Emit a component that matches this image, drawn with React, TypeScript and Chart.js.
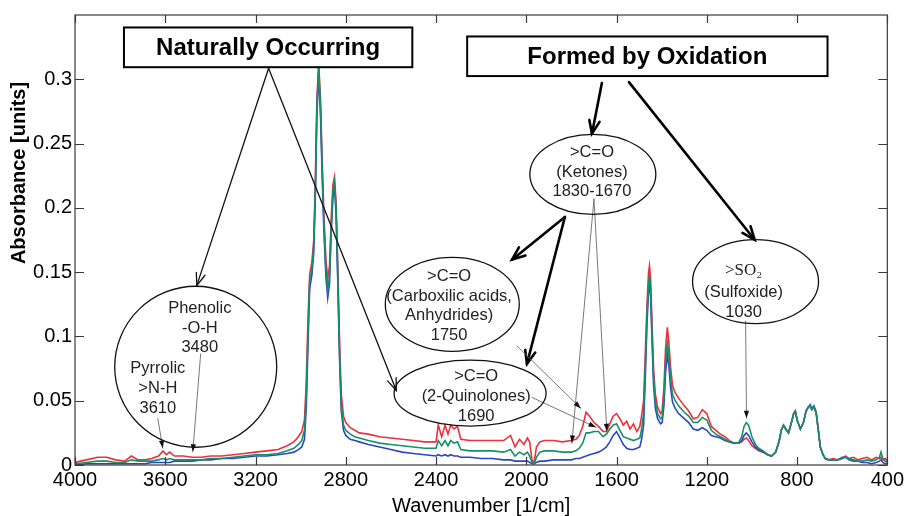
import React, { useEffect, useRef } from 'react';
import { Chart, registerables } from 'chart.js';

Chart.register(...registerables);

// ---------------- data ----------------
const wavenumbers = [
  4000, 3950, 3900, 3860, 3820, 3780, 3750, 3720, 3690, 3660,
  3630, 3610, 3595, 3580, 3560, 3520, 3480, 3440, 3400, 3350,
  3300, 3250, 3200, 3150, 3100, 3060, 3030, 3010, 2995, 2983,
  2975, 2968, 2960, 2950, 2942, 2935, 2928, 2920, 2912, 2905,
  2897, 2888, 2880, 2872, 2865, 2857, 2850, 2843, 2836, 2828,
  2820, 2810, 2800, 2780, 2760, 2740, 2700, 2650, 2600, 2550,
  2500, 2450, 2400, 2390, 2375, 2360, 2347, 2335, 2320, 2305,
  2290, 2250, 2200, 2150, 2100, 2070, 2050, 2030, 2010, 1995,
  1985, 1975, 1965, 1955, 1940, 1920, 1880, 1840, 1800, 1780,
  1765, 1750, 1735, 1720, 1700, 1680, 1660, 1645, 1630, 1615,
  1600, 1585, 1570, 1555, 1540, 1525, 1510, 1497, 1490, 1480,
  1472, 1465, 1458, 1454, 1449, 1443, 1436, 1428, 1418, 1405,
  1398, 1390, 1383, 1375, 1368, 1361, 1352, 1340, 1325, 1300,
  1280, 1260, 1240, 1220, 1200, 1180, 1160, 1140, 1120, 1100,
  1080, 1060, 1045, 1035, 1025, 1015, 1000, 985, 970, 950,
  930, 913, 895, 880, 870, 860, 850, 838, 825, 815,
  808, 798, 785, 772, 760, 750, 742, 735, 725, 715,
  705, 697, 685, 675, 660, 640, 620, 600, 585, 570,
  550, 530, 510, 490, 470, 450, 435, 428, 420, 410,
  400,
];

const redSeries = [
  0.002, 0.004, 0.006, 0.006, 0.004, 0.003, 0.007, 0.004, 0.004, 0.005,
  0.007, 0.011, 0.008, 0.010, 0.007, 0.007, 0.006, 0.006, 0.007, 0.007,
  0.008, 0.009, 0.010, 0.011, 0.012, 0.015, 0.018, 0.022, 0.026, 0.035,
  0.065, 0.110, 0.148, 0.158, 0.175, 0.220, 0.285, 0.312, 0.285, 0.240,
  0.195, 0.160, 0.145, 0.155, 0.190, 0.218, 0.224, 0.205, 0.160, 0.100,
  0.055, 0.038, 0.033, 0.029, 0.027, 0.025, 0.024, 0.022, 0.021, 0.020,
  0.019, 0.018, 0.018, 0.031, 0.022, 0.031, 0.024, 0.031, 0.028, 0.030,
  0.020, 0.019, 0.019, 0.019, 0.019, 0.023, 0.014, 0.020, 0.016, 0.021,
  0.018, 0.004, 0.002, 0.014, 0.018, 0.019, 0.019, 0.018, 0.019, 0.020,
  0.023, 0.030, 0.041, 0.038, 0.033, 0.030, 0.026, 0.026, 0.032, 0.038,
  0.040, 0.036, 0.031, 0.034, 0.028, 0.032, 0.026, 0.030, 0.037, 0.050,
  0.090, 0.125, 0.150, 0.155, 0.145, 0.112, 0.075, 0.055, 0.045, 0.040,
  0.042, 0.060, 0.090, 0.107, 0.095, 0.077, 0.062, 0.056, 0.052, 0.046,
  0.042, 0.036, 0.037, 0.043, 0.040, 0.030, 0.027, 0.024, 0.022, 0.019,
  0.017, 0.017, 0.018, 0.020, 0.021, 0.019, 0.015, 0.013, 0.011, 0.010,
  0.008, 0.007, 0.010, 0.018, 0.027, 0.031, 0.028, 0.025, 0.033, 0.040,
  0.042, 0.034, 0.028, 0.033, 0.042, 0.045, 0.046, 0.043, 0.045, 0.040,
  0.026, 0.014, 0.008, 0.005, 0.004, 0.005, 0.004, 0.005, 0.007, 0.005,
  0.006, 0.004, 0.005, 0.006, 0.004, 0.006, 0.005, 0.006, 0.004, 0.005,
  0.003,
];

const greenSeries = [
  0.001, 0.002, 0.003, 0.003, 0.002, 0.002, 0.004, 0.003, 0.003, 0.003,
  0.004, 0.005, 0.004, 0.005, 0.004, 0.004, 0.004, 0.004, 0.005, 0.005,
  0.006, 0.007, 0.008, 0.008, 0.009, 0.011, 0.013, 0.016, 0.019, 0.027,
  0.055, 0.100, 0.143, 0.153, 0.170, 0.213, 0.278, 0.310, 0.278, 0.233,
  0.188, 0.152, 0.136, 0.147, 0.183, 0.213, 0.220, 0.200, 0.152, 0.090,
  0.047, 0.031, 0.027, 0.024, 0.022, 0.021, 0.019, 0.017, 0.016, 0.015,
  0.014, 0.013, 0.013, 0.019, 0.015, 0.019, 0.015, 0.019, 0.017, 0.018,
  0.012, 0.011, 0.011, 0.011, 0.010, 0.012, 0.007, 0.010, 0.008, 0.010,
  0.007, 0.002, 0.001, 0.006, 0.010, 0.011, 0.011, 0.010, 0.010, 0.011,
  0.013, 0.017, 0.025, 0.025, 0.026, 0.026, 0.022, 0.024, 0.028, 0.031,
  0.032, 0.027, 0.022, 0.021, 0.020, 0.019, 0.020, 0.021, 0.027, 0.040,
  0.080, 0.117, 0.142, 0.147, 0.137, 0.104, 0.068, 0.049, 0.040, 0.036,
  0.037, 0.053, 0.080, 0.095, 0.085, 0.068, 0.055, 0.050, 0.046, 0.041,
  0.038, 0.033, 0.033, 0.037, 0.035, 0.027, 0.024, 0.022, 0.020, 0.018,
  0.017, 0.017, 0.022, 0.030, 0.033, 0.031, 0.022, 0.016, 0.013, 0.011,
  0.008, 0.007, 0.010, 0.018, 0.027, 0.031, 0.028, 0.025, 0.033, 0.040,
  0.042, 0.034, 0.028, 0.033, 0.042, 0.045, 0.046, 0.043, 0.045, 0.040,
  0.026, 0.014, 0.008, 0.005, 0.004, 0.004, 0.004, 0.005, 0.006, 0.005,
  0.004, 0.003, 0.003, 0.004, 0.003, 0.004, 0.006, 0.010, 0.005, 0.003,
  0.002,
];

const blueSeries = [
  0.000, 0.001, 0.001, 0.001, 0.001, 0.001, 0.001, 0.001, 0.001, 0.002,
  0.002, 0.002, 0.002, 0.002, 0.003, 0.003, 0.003, 0.004, 0.004, 0.005,
  0.005, 0.006, 0.007, 0.007, 0.008, 0.009, 0.010, 0.012, 0.014, 0.020,
  0.045, 0.090, 0.137, 0.148, 0.165, 0.207, 0.272, 0.305, 0.272, 0.227,
  0.182, 0.146, 0.130, 0.141, 0.178, 0.208, 0.216, 0.195, 0.146, 0.085,
  0.042, 0.027, 0.023, 0.020, 0.019, 0.018, 0.016, 0.014, 0.012, 0.010,
  0.009, 0.008, 0.007, 0.008, 0.007, 0.008, 0.007, 0.008, 0.007, 0.007,
  0.006, 0.006, 0.005, 0.005, 0.004, 0.004, 0.003, 0.003, 0.003, 0.003,
  0.002, 0.001, 0.001, 0.002, 0.003, 0.003, 0.004, 0.004, 0.004, 0.005,
  0.005, 0.006, 0.007, 0.008, 0.009, 0.010, 0.012, 0.014, 0.018, 0.023,
  0.026, 0.021, 0.016, 0.013, 0.012, 0.012, 0.013, 0.014, 0.019, 0.031,
  0.071, 0.110, 0.136, 0.141, 0.131, 0.098, 0.062, 0.044, 0.036, 0.032,
  0.033, 0.046, 0.071, 0.086, 0.077, 0.061, 0.049, 0.044, 0.040, 0.036,
  0.033, 0.028, 0.027, 0.029, 0.027, 0.023, 0.022, 0.021, 0.019, 0.018,
  0.017, 0.017, 0.019, 0.023, 0.025, 0.023, 0.018, 0.014, 0.012, 0.010,
  0.008, 0.007, 0.010, 0.018, 0.027, 0.031, 0.028, 0.025, 0.033, 0.040,
  0.042, 0.034, 0.028, 0.033, 0.042, 0.045, 0.047, 0.044, 0.046, 0.041,
  0.026, 0.014, 0.008, 0.005, 0.004, 0.004, 0.004, 0.006, 0.006, 0.004,
  0.003, 0.003, 0.002, 0.002, 0.001, 0.002, 0.003, 0.004, 0.002, 0.001,
  0.001,
];

const xTickValues = [4000, 3600, 3200, 2800, 2400, 2000, 1600, 1200, 800, 400];
const xTickLabels = ['4000', '3600', '3200', '2800', '2400', '2000', '1600', '1200', '800', '400'];
const yTickValues = [0, 0.05, 0.1, 0.15, 0.2, 0.25, 0.3];
const yTickLabels = ['0', '0.05', '0.1', '0.15', '0.2', '0.25', '0.3'];
const xTitle = 'Wavenumber [1/cm]';
const yTitle = 'Absorbance [units]';

// ---------------- annotations (positions in data units, sizes in px) ----------------
const headerBoxes = [
  { text: 'Naturally Occurring', x1: 3783, x2: 2505, y1: 0.3403, y2: 0.3094 },
  { text: 'Formed by Oxidation', x1: 2262, x2: 665, y1: 0.3333, y2: 0.3025 },
];

const ellipses = [
  { cx: 3465, cy: 0.0764, rx: 81, ry: 80.5 },
  { cx: 1705, cy: 0.2261, rx: 63, ry: 40 },
  { cx: 2328, cy: 0.1250, rx: 67, ry: 47 },
  { cx: 2249, cy: 0.0559, rx: 76, ry: 33 },
  { cx: 984, cy: 0.1427, rx: 63, ry: 42 },
];

const textBlocks = [
  { x: 3447, y: 0.1219, lines: ['Phenolic', '-O-H', '3480'], serif: false },
  { x: 3633, y: 0.0748, lines: ['Pyrrolic', '>N-H', '3610'], serif: false },
  { x: 1709, y: 0.2431, lines: ['>C=O', '(Ketones)', '1830-1670'], serif: false },
  { x: 2342, y: 0.1466, lines: ['>C=O', '(Carboxilic acids,', 'Anhydrides)', '1750'], serif: false },
  { x: 2222, y: 0.0687, lines: ['>C=O', '(2-Quinolones)', '1690'], serif: false },
  { x: 1037, y: 0.1512, lines: ['>SO₂'], serif: true },
  { x: 1037, y: 0.1343, lines: ['(Sulfoxide)', '1030'], serif: false },
];

// kind: thin = black open head, thick = bold black open head, pointer = grey line with small filled head
const arrows = [
  { from: [3142, 0.3086], to: [3460, 0.1397], kind: 'thin' },
  { from: [3142, 0.3086], to: [2576, 0.0579], kind: 'thin' },
  { from: [1665, 0.2971], to: [1709, 0.2577], kind: 'thick' },
  { from: [1545, 0.2978], to: [988, 0.1752], kind: 'thick' },
  { from: [1829, 0.1929], to: [2063, 0.1597], kind: 'thick' },
  { from: [1829, 0.1929], to: [1997, 0.0787], kind: 'thick' },
  { from: [3443, 0.0864], to: [3478, 0.0103], kind: 'pointer' },
  { from: [3633, 0.0363], to: [3611, 0.0131], kind: 'pointer' },
  { from: [1700, 0.2068], to: [1798, 0.0170], kind: 'pointer' },
  { from: [1700, 0.2068], to: [1643, 0.0262], kind: 'pointer' },
  { from: [2041, 0.0926], to: [1758, 0.0440], kind: 'pointer' },
  { from: [1974, 0.0525], to: [1691, 0.0293], kind: 'pointer' },
  { from: [1028, 0.1119], to: [1024, 0.0363], kind: 'pointer' },
];

const SANS = '"Liberation Sans", Arial, sans-serif';
const SERIF = '"Liberation Serif", "Times New Roman", serif';

function drawArrow(ctx: CanvasRenderingContext2D, x1: number, y1: number, x2: number, y2: number, kind: string) {
  const cfg =
    kind === 'thick'
      ? { w: 2.6, color: '#000', head: 14, spread: 0.38, filled: false, headColor: '#000' }
      : kind === 'thin'
      ? { w: 1.3, color: '#111', head: 13, spread: 0.36, filled: false, headColor: '#111' }
      : { w: 0.9, color: '#6a6a6a', head: 8, spread: 0.33, filled: true, headColor: '#111' };
  ctx.save();
  ctx.strokeStyle = cfg.color;
  ctx.lineWidth = cfg.w;
  ctx.lineCap = 'round';
  ctx.lineJoin = 'miter';
  ctx.beginPath();
  ctx.moveTo(x1, y1);
  ctx.lineTo(x2, y2);
  ctx.stroke();
  const ang = Math.atan2(y2 - y1, x2 - x1);
  const a1 = ang + Math.PI - cfg.spread;
  const a2 = ang + Math.PI + cfg.spread;
  const p1 = [x2 + cfg.head * Math.cos(a1), y2 + cfg.head * Math.sin(a1)];
  const p2 = [x2 + cfg.head * Math.cos(a2), y2 + cfg.head * Math.sin(a2)];
  ctx.beginPath();
  ctx.moveTo(p1[0], p1[1]);
  ctx.lineTo(x2, y2);
  ctx.lineTo(p2[0], p2[1]);
  if (cfg.filled) {
    ctx.closePath();
    ctx.fillStyle = cfg.headColor;
    ctx.fill();
  } else {
    ctx.strokeStyle = cfg.headColor;
    ctx.stroke();
  }
  ctx.restore();
}

const decorPlugin = {
  id: 'decor',
  afterDraw(chart: any) {
    const { ctx, chartArea } = chart;
    const xs = chart.scales.x;
    const ys = chart.scales.y;
    const px = (v: number) => xs.getPixelForValue(v);
    const py = (v: number) => ys.getPixelForValue(v);
    const { left, right, top, bottom } = chartArea;

    ctx.save();
    // frame
    ctx.strokeStyle = '#3a3a3a';
    ctx.lineWidth = 1.2;
    ctx.strokeRect(left, top, right - left, bottom - top);
    // inside ticks
    ctx.beginPath();
    xTickValues.forEach((v) => {
      const x = Math.round(px(v)) + 0.5;
      ctx.moveTo(x, bottom);
      ctx.lineTo(x, bottom - 8);
      ctx.moveTo(x, top);
      ctx.lineTo(x, top + 8);
    });
    yTickValues.forEach((v) => {
      const y = Math.round(py(v)) + 0.5;
      ctx.moveTo(left, y);
      ctx.lineTo(left + 9, y);
      ctx.moveTo(right, y);
      ctx.lineTo(right - 9, y);
    });
    ctx.stroke();

    // axis titles
    ctx.fillStyle = '#000';
    ctx.textAlign = 'center';
    ctx.textBaseline = 'middle';
    ctx.font = `20px ${SANS}`;
    ctx.fillText(xTitle, (left + right) / 2, 506);
    ctx.save();
    ctx.translate(19, 173);
    ctx.rotate(-Math.PI / 2);
    ctx.font = `bold 20px ${SANS}`;
    ctx.fillText(yTitle, 0, 0);
    ctx.restore();

    // arrows first (under shapes)
    arrows.forEach((a) => {
      drawArrow(ctx, px(a.from[0]), py(a.from[1]), px(a.to[0]), py(a.to[1]), a.kind);
    });

    // ellipses
    ellipses.forEach((e) => {
      ctx.beginPath();
      ctx.ellipse(px(e.cx), py(e.cy), e.rx, e.ry, 0, 0, Math.PI * 2);
      ctx.strokeStyle = '#111';
      ctx.lineWidth = 1.3;
      ctx.stroke();
    });

    // header boxes
    headerBoxes.forEach((b) => {
      const x1 = px(b.x1);
      const x2 = px(b.x2);
      const y1 = py(b.y1);
      const y2 = py(b.y2);
      ctx.fillStyle = '#fff';
      ctx.fillRect(x1, y1, x2 - x1, y2 - y1);
      ctx.strokeStyle = '#000';
      ctx.lineWidth = 2;
      ctx.strokeRect(x1, y1, x2 - x1, y2 - y1);
      ctx.fillStyle = '#000';
      ctx.font = `bold 24px ${SANS}`;
      ctx.textAlign = 'center';
      ctx.textBaseline = 'middle';
      ctx.fillText(b.text, (x1 + x2) / 2, (y1 + y2) / 2 + 1);
    });

    // text blocks
    textBlocks.forEach((t) => {
      ctx.fillStyle = '#222';
      ctx.textAlign = 'center';
      ctx.textBaseline = 'middle';
      ctx.font = t.serif ? `17px ${SERIF}` : `16.5px ${SANS}`;
      t.lines.forEach((ln, i) => {
        ctx.fillText(ln, px(t.x), py(t.y) + i * 19.7);
      });
    });
    ctx.restore();
  },
};

export default function App() {
  const ref = useRef<HTMLCanvasElement | null>(null);
  useEffect(() => {
    if (!ref.current) return;
    const mk = (arr: number[]) => wavenumbers.map((w, i) => ({ x: w, y: arr[i] }));
    const chart = new Chart(ref.current, {
      type: 'line',
      data: {
        datasets: [
          { label: 'green', data: mk(greenSeries), borderColor: '#169068', borderWidth: 1.6, pointRadius: 0, tension: 0, fill: false },
          { label: 'blue', data: mk(blueSeries), borderColor: '#2b46c4', borderWidth: 1.6, pointRadius: 0, tension: 0, fill: false },
          { label: 'red', data: mk(redSeries), borderColor: '#ee2f3c', borderWidth: 1.6, pointRadius: 0, tension: 0, fill: false },
        ],
      },
      options: {
        animation: false,
        responsive: true,
        maintainAspectRatio: false,
        layout: { padding: { top: 12, right: 18, left: 0, bottom: 0 } },
        plugins: { legend: { display: false }, tooltip: { enabled: false }, title: { display: false } },
        scales: {
          x: {
            type: 'linear',
            reverse: true,
            min: 400,
            max: 4000,
            grid: { display: false, drawTicks: false },
            border: { display: false },
            afterBuildTicks: (s: any) => {
              s.ticks = xTickValues.map((v) => ({ value: v }));
            },
            afterFit: (s: any) => {
              s.height = 51;
            },
            ticks: {
              autoSkip: false,
              maxRotation: 0,
              padding: 3,
              color: '#000',
              font: { family: SANS, size: 20 },
              callback: (v: any) => {
                const i = xTickValues.indexOf(Number(v));
                return i >= 0 ? xTickLabels[i] : '';
              },
            },
          },
          y: {
            type: 'linear',
            min: 0,
            max: 0.35,
            grid: { display: false, drawTicks: false },
            border: { display: false },
            afterBuildTicks: (s: any) => {
              s.ticks = yTickValues.map((v) => ({ value: v }));
            },
            afterFit: (s: any) => {
              s.width = 75;
            },
            ticks: {
              padding: 3,
              color: '#000',
              font: { family: SANS, size: 20 },
              callback: (v: any) => {
                const i = yTickValues.findIndex((t) => Math.abs(t - Number(v)) < 1e-9);
                return i >= 0 ? yTickLabels[i] : '';
              },
            },
          },
        },
      },
      plugins: [decorPlugin],
    });
    return () => chart.destroy();
  }, []);
  return (
    <div style={{ position: 'fixed', left: 0, top: 0, width: 907, height: 516, background: '#fff' }}>
      <canvas ref={ref} />
    </div>
  );
}
